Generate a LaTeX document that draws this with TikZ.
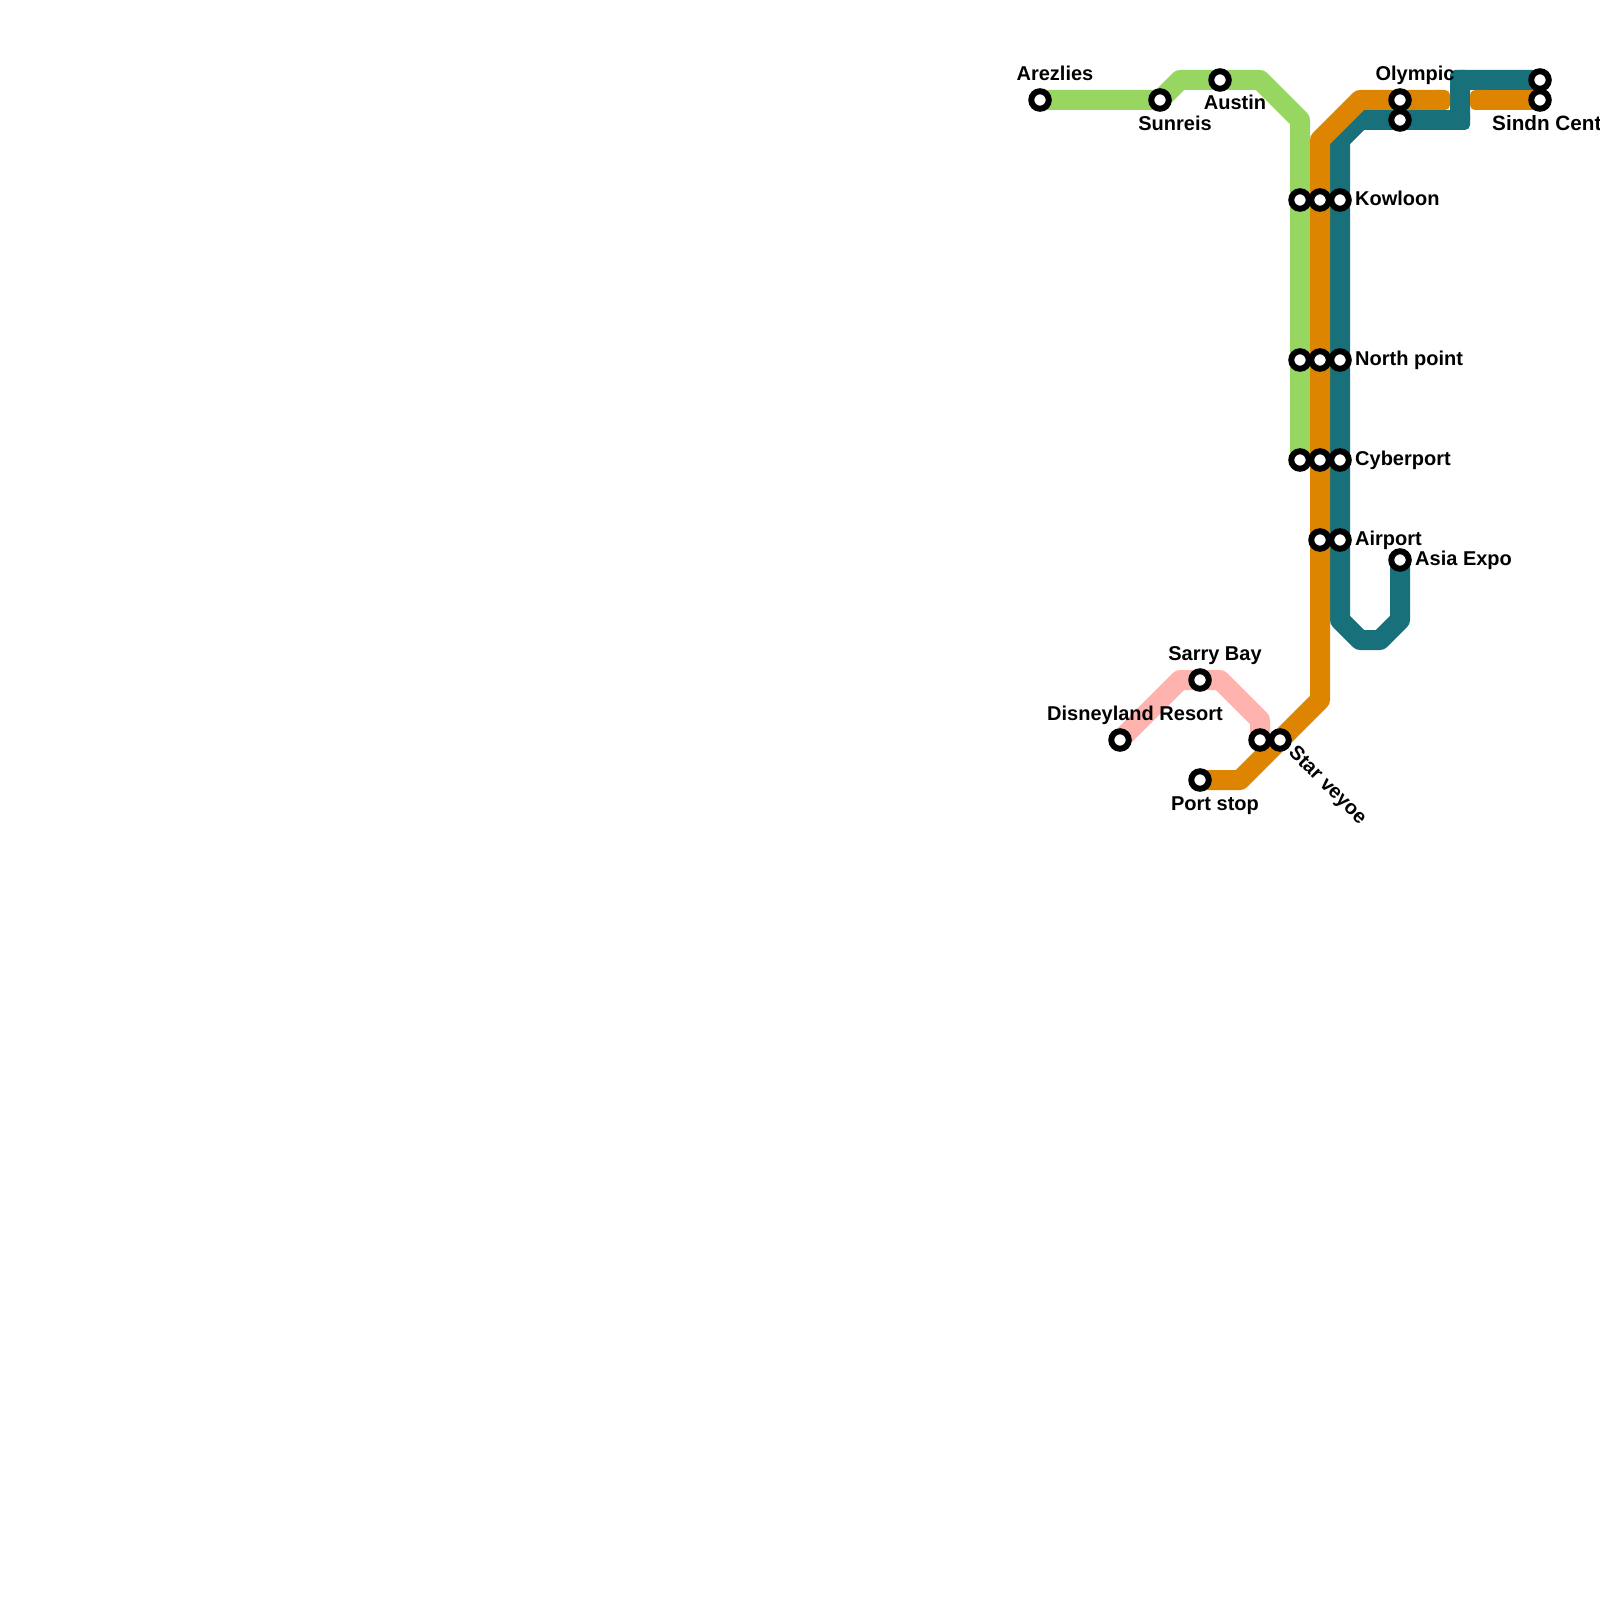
\documentclass[tikz,border=0pt]{standalone}
\usepackage{fontspec}
\setmainfont{Liberation Sans}
\definecolor{lgreen}{HTML}{97D660}
\definecolor{lorange}{HTML}{DD8500}
\definecolor{lteal}{HTML}{18707B}
\definecolor{lpink}{HTML}{FFB3AE}
\tikzset{
  metro/.style={line width=20pt,line join=round,line cap=butt},
  patch/.style={rounded corners=5pt},
  stn/.style={circle,draw=black,fill=white,line width=6pt,minimum size=17.5pt,inner sep=0pt,outer sep=0pt},
  lab/.style={font=\fontsize{20}{24}\selectfont\bfseries,inner sep=0pt,text=black},
}
\begin{document}
\begin{tikzpicture}[x=1pt,y=-1pt]
\useasboundingbox (0,0) rectangle (1600,1600);
% junction points
\foreach \n/\x/\y in {g1/1180/80,g2/1260/80,g3/1300/120,
  o1/1240/780,o2/1320/700,o3/1320/140,o4/1360/100,o5/1440/100,o6/1480/100,
  t1/1340/620,t2/1360/640,t3/1380/640,t4/1400/620,t5/1340/140,t6/1360/120,t7/1460/120,t8/1460/80,
  p1/1180/680,p2/1220/680,p3/1260/720}
  \coordinate (\n) at (\x,\y);
% line ends at stations
\coordinate (arezlies) at (1040,100);
\coordinate (sunreis) at (1160,100);
\coordinate (austin) at (1220,80);
\coordinate (kowg) at (1300,200);
\coordinate (cybg) at (1300,460);
\coordinate (port) at (1200,780);
\coordinate (sindno) at (1540,100);
\coordinate (sindnt) at (1540,80);
\coordinate (asia) at (1400,560);
\coordinate (disney) at (1120,740);
\coordinate (sarry) at (1200,680);
\coordinate (starp) at (1260,740);

\draw[metro,lpink] (disney) -- (p1) -- (sarry) -- (p2) -- (p3) -- (starp);
\draw[metro,lgreen] (arezlies) -- (sunreis) -- (g1) -- (austin) -- (g2) -- (g3) -- (kowg) -- (cybg);
\draw[metro,lteal] (asia) -- (t4) -- (t3) -- (t2) -- (t1) -- (t5) -- (t6) -- (t7) -- (t8) -- (sindnt);
\fill[lteal,patch] (1450,110) rectangle (1470,130);
\fill[lteal,patch] (1450,70) rectangle (1470,90);
\draw[metro,lorange] (port) -- (o1) -- (o2) -- (o3) -- (o4) -- (o5);
\draw[metro,lorange] (o6) -- (sindno);
\fill[lorange,patch] (1430,90) rectangle (1450,110);
\fill[lorange,patch] (1470,90) rectangle (1490,110);

\foreach \n/\x/\y in {s1/1040/100,s2/1160/100,s3/1220/80,
  s4/1300/200,s5/1320/200,s6/1340/200,
  s7/1300/360,s8/1320/360,s9/1340/360,
  s10/1300/460,s11/1320/460,s12/1340/460,
  s13/1320/540,s14/1340/540,s15/1400/560,
  s16/1400/100,s17/1400/120,s18/1540/80,s19/1540/100,
  s20/1200/680,s21/1120/740,s22/1260/740,s23/1280/740,s24/1200/780}
  \node[stn] (\n) at (\x,\y) {};

\node[lab,anchor=base] (l1) at (1055,80.5) {Arezlies};
\node[lab,anchor=base] (l2) at (1175,131) {Sunreis};
\node[lab,anchor=base] (l3) at (1235,110) {Austin};
\node[lab,anchor=base] (l4) at (1415,80.5) {Olympic};
\node[lab,anchor=base west,font=\fontsize{20.7}{24}\selectfont\bfseries] (l5) at (1492,131) {Sindn Centre};
\node[lab,anchor=base west] (l6) at (1355,205) {Kowloon};
\node[lab,anchor=base west] (l7) at (1355,365) {North point};
\node[lab,anchor=base west] (l8) at (1355,465) {Cyberport};
\node[lab,anchor=base west] (l9) at (1355,545) {Airport};
\node[lab,anchor=base west] (l10) at (1415,565) {Asia Expo};
\node[lab,anchor=base] (l11) at (1215,660) {Sarry Bay};
\node[lab,anchor=base] (l12) at (1135,720) {Disneyland Resort};
\node[lab,anchor=base] (l13) at (1215,810) {Port stop};
\node[lab,rotate=-45] (l14) at (1327,786) {Star veyoe};
\end{tikzpicture}
\end{document}
